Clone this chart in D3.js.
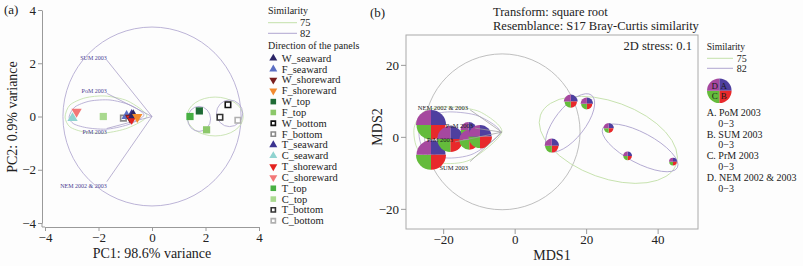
<!DOCTYPE html>
<html><head><meta charset="utf-8">
<script src="https://cdn.jsdelivr.net/npm/d3@7"></script>
<style>
body{margin:0;background:#fff;}
svg{display:block;font-family:"Liberation Serif","Times New Roman",serif;}
</style></head>
<body>
<svg id="c" width="803" height="266"></svg>
<script>
// ---------- Panel (a) data: PCA ----------
const groups = ["W_seaward","F_seaward","W_shoreward","F_shoreward","W_top","F_top","W_bottom","F_bottom",
                "T_seaward","C_seaward","T_shoreward","C_shoreward","T_top","C_top","T_bottom","C_bottom"];
const pc1 = [-0.70,-0.95,-0.82,-0.55, 1.77, 2.04, 2.84,-1.07,-0.76,-2.97,-0.76,-2.82, 1.42,-1.82, 2.54, 3.21];
const pc2 = [ 0.05, 0.02,-0.05,-0.02, 0.21,-0.50, 0.44,-0.06, 0.06,-0.06,-0.09, 0.18, 0.00, 0.00,-0.03,-0.14];
const shapes = ["up","up","down","down","sq","sq","open","open","up","up","down","down","sq","sq","open","open"];
const colors = ["#2b2466","#5b6fc4","#7a1e1e","#f28a2e","#1f6b35","#8cc86a","#111111","#8a8a8a",
                "#3a3390","#8fd3d0","#e4221f","#f27777","#47b043","#a9d98f","#333333","#b0b0b0"];
const vecLabels = ["SUM 2003","PoM 2003","PrM 2003","NEM 2002 & 2003"];
const vecX = [-1.69,-1.69,-1.69,-1.69];
const vecY = [ 2.12, 0.87,-0.45,-2.45];
const aTicks = [-4,-2,0,2,4];
// similarity contours panel (a)
const aEllCx = [0, 2.36, 1.76, 2.90];
const aEllCy = [0, 0.00,-0.09, 0.12];
const aEllRx = [3.33, 1.05, 0.43, 0.49];
const aEllRy = [3.36, 0.73, 0.47, 0.50];
const aEllLevel = [82, 75, 82, 82];
const aTear75x = [-3.25,-3.07,-2.50,-1.76,-0.90,-0.19,-0.90,-1.76,-2.54,-3.07];
const aTear75y = [-0.02, 0.43, 0.70, 0.77, 0.58, 0.02,-0.43,-0.62,-0.58,-0.39];
const aTear82x = [-3.10,-2.88,-2.32,-1.57,-0.82,-0.30,-0.82,-1.64,-2.39,-2.92];
const aTear82y = [-0.02, 0.36, 0.58, 0.62, 0.43, 0.06,-0.28,-0.47,-0.43,-0.28];

// ---------- Panel (b) data: MDS bubbles ----------
const mdsX = [-23.4,-23.4,-18.0,-12.9,-12.7, -9.7, 15.7, 20.2, 10.4, 26.3, 31.6, 44.3];
const mdsY = [  3.3, -5.0, -0.6,  1.9, -0.8,  0.1,  9.8,  9.2, -2.5,  2.4, -5.3, -6.9];
const valA = [3.0, 2.9, 2.6, 1.6, 2.0, 2.3, 1.40, 1.25, 1.45, 1.05, 0.90, 0.80]; // PoM 2003
const valB = [2.9, 3.0, 2.6, 1.6, 2.0, 2.4, 1.25, 1.10, 1.35, 0.95, 0.85, 0.75]; // SUM 2003
const valC = [2.9, 3.0, 2.6, 1.6, 2.0, 2.3, 1.25, 1.15, 1.35, 0.95, 0.85, 0.75]; // PrM 2003
const valD = [3.0, 2.9, 2.6, 1.6, 2.0, 2.3, 1.40, 1.25, 1.45, 1.05, 0.90, 0.80]; // NEM 2002 & 2003
const seasonNames = ["A. PoM 2003","B. SUM 2003","C. PrM 2003","D. NEM 2002 & 2003"];
const seasonColors = ["#4e3f9f","#e8292b","#64bb3b","#a6489f"];
const bTicksX = [-20,0,20,40];
const bTicksY = [-20,0,20];
const bVertex = [-3.58, 1.31];
const bVecLabels = ["NEM 2002 & 2003","PoM 2003","PrM 2003","SUM 2003"];
const bVecX = [-12.46,-11.06,-16.66,-12.46];
const bVecY = [  7.50,  2.42, -1.39, -6.86];
const bEllCx = [-3.5, 26.2, 35.1, 15.5];
const bEllCy = [ 1.4, -0.83,-3.06, 3.9];
const bEllRx = [21.8, 20.2, 11.8, 9.8];
const bEllRy = [21.8, 10.6,  4.2, 4.2];
const bEllAng = [0, 20, 28, -52];
const bEllLevel = [0, 75, 82, 82];
const bTear75x = [-3.58,-9.66,-18.05,-25.05,-28.13,-27.01,-20.85,-12.46];
const bTear75y = [ 1.31, 6.94,  8.33,  7.22,  2.50, -3.61, -7.22, -6.39];
const bTear82x = [-4.06,-10.22,-18.05,-24.21,-26.73,-25.61,-19.45,-11.62];
const bTear82y = [ 1.25,  5.83,  6.94,  5.83,  1.94, -3.06, -5.83, -4.72];

const simLevels = [75, 82];
const simColors = {75:"#c3e0aa", 82:"#b0a6d0", 0:"#b3b3b3"};

const svg = d3.select("#c");
svg.append("rect").attr("width",803).attr("height",266).attr("fill","#fdfdfd");
const fmt = d => d < 0 ? "\u2212" + (-d) : String(d);
const axisColor = "#9a9a9a";

// ================= Panel (a) =================
const xL = d3.scaleLinear().domain([-4,4]).range([45,259]);
const yL = d3.scaleLinear().domain([-4,4]).range([223,10]);
const gA = svg.append("g");

function styleAxis(g){
  g.selectAll("path,line").attr("stroke",axisColor);
  g.selectAll("text").attr("fill","#222").style("font-family","Liberation Serif").style("font-size","13px");
}
gA.append("g").attr("transform","translate(42,0)")
  .call(d3.axisLeft(yL).tickValues(aTicks).tickFormat(fmt).tickSize(4).tickSizeOuter(0).tickPadding(2))
  .call(styleAxis);
gA.append("g").attr("transform","translate(0,227)")
  .call(d3.axisBottom(xL).tickValues(aTicks).tickFormat(fmt).tickSize(4).tickSizeOuter(0).tickPadding(2))
  .call(styleAxis);
gA.append("line").attr("x1",42).attr("x2",42).attr("y1",223).attr("y2",227).attr("stroke",axisColor);
gA.append("line").attr("x1",42).attr("x2",45).attr("y1",227).attr("y2",227).attr("stroke",axisColor);

// ellipses / circle
aEllCx.forEach((cx,i)=>{
  gA.append("ellipse").attr("cx",xL(cx)).attr("cy",yL(aEllCy[i]))
    .attr("rx",xL(aEllRx[i])-xL(0)).attr("ry",yL(0)-yL(aEllRy[i]))
    .attr("fill","none").attr("stroke",simColors[aEllLevel[i]]).attr("stroke-width",0.85);
});
const closedA = d3.line().x(d=>xL(d[0])).y(d=>yL(d[1])).curve(d3.curveCardinalClosed.tension(0.2));
gA.append("path").attr("d",closedA(aTear75x.map((x,i)=>[x,aTear75y[i]])))
  .attr("fill","none").attr("stroke",simColors[75]).attr("stroke-width",0.85);
gA.append("path").attr("d",closedA(aTear82x.map((x,i)=>[x,aTear82y[i]])))
  .attr("fill","none").attr("stroke",simColors[82]).attr("stroke-width",0.85);

// vectors
vecLabels.forEach((lab,i)=>{
  gA.append("line").attr("x1",xL(0)).attr("y1",yL(0)).attr("x2",xL(vecX[i])).attr("y2",yL(vecY[i]))
    .attr("stroke","#a49ac4").attr("stroke-width",0.75);
  gA.append("text").attr("x",xL(vecX[i])).attr("y",yL(vecY[i]) + (vecY[i] > 0 ? 0 : 6))
    .attr("text-anchor","end").attr("fill","#4b3d92").style("font-size","6px").text(lab);
});

// points
function sym(shape, size){
  if (shape==="up" || shape==="down") return d3.symbol(d3.symbolTriangle, size)();
  return d3.symbol(d3.symbolSquare, size)();
}
function drawMarker(g, x, y, shape, color, scale){
  const s = scale || 1;
  const p = g.append("path").attr("transform",`translate(${x},${y})` + (shape==="down" ? " rotate(180)" : ""));
  if (shape==="open"){
    p.attr("d", sym(shape, 30*s)).attr("fill","#fff").attr("stroke",color).attr("stroke-width",1.6);
  } else if (shape==="sq"){
    p.attr("d", sym(shape, 52*s)).attr("fill",color);
  } else {
    p.attr("d", sym(shape, 46*s)).attr("fill",color);
  }
}
const order = [13,9,11,7,1,8,2,10,0,3,12,4,5,14,6,15];
order.forEach(i=> drawMarker(gA, xL(pc1[i]), yL(pc2[i]), shapes[i], colors[i]));

// axis titles
svg.append("text").attr("transform","translate(17,117) rotate(-90)").attr("text-anchor","middle")
  .style("font-size","14px").attr("fill","#222").text("PC2: 0.9% variance");
svg.append("text").attr("x",152).attr("y",258).attr("text-anchor","middle")
  .style("font-size","14px").attr("fill","#222").text("PC1: 98.6% variance");
svg.append("text").attr("x",4).attr("y",14).style("font-size","13px").attr("fill","#222").text("(a)");

// legend (a)
const lgA = svg.append("g");
lgA.append("text").attr("x",268).attr("y",13.5).style("font-size","10px").attr("fill","#222").text("Similarity");
simLevels.forEach((lv,i)=>{
  const y = 22.7 + i*10.6;
  lgA.append("line").attr("x1",268).attr("x2",297).attr("y1",y).attr("y2",y).attr("stroke",simColors[lv]).attr("stroke-width",1);
  lgA.append("text").attr("x",300).attr("y",y+3.5).style("font-size","10.5px").attr("fill","#222").text(lv);
});
lgA.append("text").attr("x",268).attr("y",48.5).style("font-size","10px").attr("fill","#222").text("Direction of the panels");
groups.forEach((g,i)=>{
  const y = 58.3 + i*10.83;
  drawMarker(lgA, 273.3, y, shapes[i], colors[i], 0.6);
  lgA.append("text").attr("x",281.7).attr("y",y+3.5).style("font-size","10.5px").attr("fill","#222").text(g);
});

// ================= Panel (b) =================
const xR = d3.scaleLinear().domain([-30.4,51.3]).range([406,698]);
const yR = d3.scaleLinear().domain([-25.6,28.3]).range([229,35]);
const gB = svg.append("g");
gB.append("rect").attr("x",406).attr("y",35).attr("width",292).attr("height",194)
  .attr("fill","none").attr("stroke","#aaaaaa");
gB.append("g").attr("transform","translate(406,0)")
  .call(d3.axisLeft(yR).tickValues(bTicksY).tickFormat(fmt).tickSize(5).tickSizeOuter(0).tickPadding(2))
  .call(styleAxis).call(g=>g.select(".domain").remove());
gB.append("g").attr("transform","translate(0,229)")
  .call(d3.axisBottom(xR).tickValues(bTicksX).tickFormat(fmt).tickSize(5).tickSizeOuter(0).tickPadding(1))
  .call(styleAxis).call(g=>g.select(".domain").remove());

// contours
bEllCx.forEach((cx,i)=>{
  const px = xR(cx), py = yR(bEllCy[i]);
  gB.append("ellipse").attr("transform",`translate(${px},${py}) rotate(${bEllAng[i]})`)
    .attr("rx",xR(bEllRx[i])-xR(0)).attr("ry", i===0 ? xR(bEllRx[i])-xR(0) : yR(0)-yR(bEllRy[i]))
    .attr("fill","none").attr("stroke",simColors[bEllLevel[i]]).attr("stroke-width",0.85);
});
const closedB = d3.line().x(d=>xR(d[0])).y(d=>yR(d[1])).curve(d3.curveCardinalClosed.tension(0.2));
gB.append("path").attr("d",closedB(bTear75x.map((x,i)=>[x,bTear75y[i]])))
  .attr("fill","none").attr("stroke",simColors[75]).attr("stroke-width",0.85);
gB.append("path").attr("d",closedB(bTear82x.map((x,i)=>[x,bTear82y[i]])))
  .attr("fill","none").attr("stroke",simColors[82]).attr("stroke-width",0.85);

// bubbles
const rS = d3.scaleLinear().domain([0,3]).range([0,15]);
const arc = d3.arc().innerRadius(0);
const quad = [[0,Math.PI/2],[Math.PI/2,Math.PI],[Math.PI,1.5*Math.PI],[1.5*Math.PI,2*Math.PI]];
mdsX.forEach((x,i)=>{
  const g = gB.append("g").attr("transform",`translate(${xR(x)},${yR(mdsY[i])})`);
  [valA[i],valB[i],valC[i],valD[i]].forEach((v,k)=>{
    g.append("path").attr("d",arc({outerRadius:rS(v),startAngle:quad[k][0],endAngle:quad[k][1]}))
      .attr("fill",seasonColors[k]);
  });
});

// vector lines & labels
bVecLabels.forEach((lab,i)=>{
  gB.append("line").attr("x1",xR(bVertex[0])).attr("y1",yR(bVertex[1]))
    .attr("x2",xR(bVecX[i])).attr("y2",yR(bVecY[i])).attr("stroke","#a0a0a0").attr("stroke-width",0.75);
  gB.append("text").attr("x",xR(bVecX[i])-2).attr("y",yR(bVecY[i])+ (i===3 ? 8 : 0))
    .attr("text-anchor","end").style("font-size","6.5px").attr("fill","#222").text(lab);
});

svg.append("text").attr("x",370).attr("y",17).style("font-size","13px").attr("fill","#222").text("(b)");
svg.append("text").attr("x",493).attr("y",16).style("font-size","12.5px").attr("fill","#222").text("Transform: square root");
svg.append("text").attr("x",493).attr("y",29.5).style("font-size","12.5px").attr("fill","#222").text("Resemblance: S17 Bray-Curtis similarity");
svg.append("text").attr("x",692).attr("y",50).attr("text-anchor","end").style("font-size","12.5px").attr("fill","#222").text("2D stress: 0.1");
svg.append("text").attr("transform","translate(382,127) rotate(-90)").attr("text-anchor","middle")
  .style("font-size","14px").attr("fill","#222").text("MDS2");
svg.append("text").attr("x",552).attr("y",259.5).attr("text-anchor","middle")
  .style("font-size","14px").attr("fill","#222").text("MDS1");

// legend (b)
const lgB = svg.append("g");
lgB.append("text").attr("x",706.7).attr("y",50).style("font-size","9.6px").attr("fill","#222").text("Similarity");
simLevels.forEach((lv,i)=>{
  const y = 58.3 + i*10;
  lgB.append("line").attr("x1",707).attr("x2",733).attr("y1",y).attr("y2",y).attr("stroke",simColors[lv]).attr("stroke-width",1);
  lgB.append("text").attr("x",736.7).attr("y",y+3.5).style("font-size","10px").attr("fill","#222").text(lv);
});
const pie = lgB.append("g").attr("transform","translate(719.3,90.7)");
const letters = ["A","B","C","D"];
const lpos = [[4.5,-2],[4.5,8],[-4.5,8],[-4.5,-2]];
seasonColors.forEach((c,k)=>{
  pie.append("path").attr("d",arc({outerRadius:12.3,startAngle:quad[k][0],endAngle:quad[k][1]})).attr("fill",c);
});
letters.forEach((l,k)=>{
  pie.append("text").attr("x",lpos[k][0]).attr("y",lpos[k][1]).attr("text-anchor","middle")
    .style("font-size","9px").attr("fill","#1a1a1a").text(l);
});
seasonNames.forEach((s,k)=>{
  const y = 116 + k*21.6;
  lgB.append("text").attr("x",706.7).attr("y",y).style("font-size","10px").attr("fill","#222").text(s);
  lgB.append("text").attr("x",718.3).attr("y",y+10.7).style("font-size","10px").attr("fill","#222").text("0\u22123");
});
</script>
</body></html>
